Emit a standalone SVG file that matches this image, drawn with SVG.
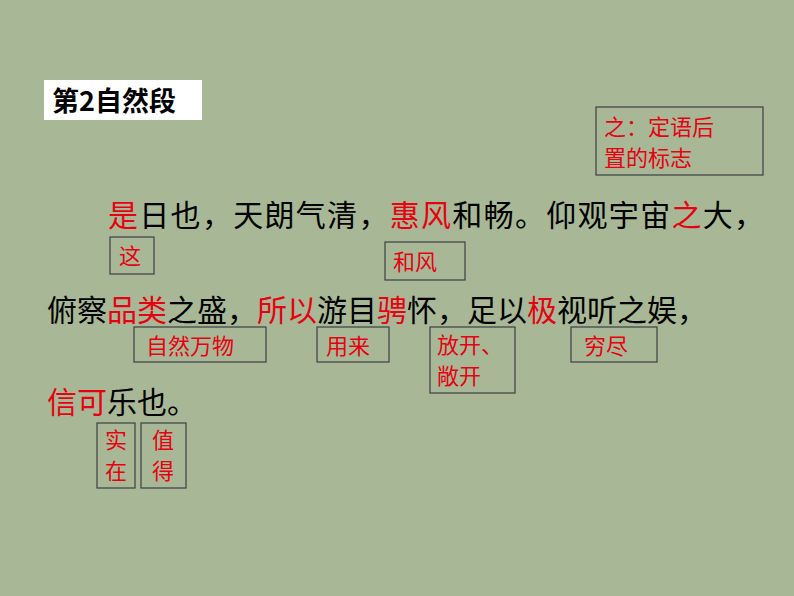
<svg xmlns="http://www.w3.org/2000/svg" width="794" height="596" viewBox="0 0 794 596">
<style>
.t{font-family:"Noto Sans CJK SC","Liberation Sans",sans-serif;font-size:30px;fill:#000}
.r{fill:#e60012}
.b{fill:none;stroke:#3a3f45;stroke-width:1.2}
.n{font-family:"Noto Sans CJK SC","Liberation Sans",sans-serif;font-size:22px;fill:#e60012}
</style>
<rect width="794" height="596" fill="#a8b896"/>
<g id="title"><rect x="44" y="80" width="158" height="40" fill="#fff"/>
<text x="52" y="111" font-family="Noto Sans CJK SC,Liberation Sans,sans-serif" font-size="27" font-weight="bold">第2自然段</text></g>
<text class="t" x="108" y="226" letter-spacing="1.3"><tspan class="r">是</tspan>日也，天朗气清，<tspan class="r">惠风</tspan>和畅。仰观宇宙<tspan class="r">之</tspan>大，</text>
<text class="t" x="47" y="321"><tspan>俯察</tspan><tspan class="r">品类</tspan>之盛，<tspan class="r">所以</tspan>游目<tspan class="r">骋</tspan>怀，足以<tspan class="r">极</tspan>视听之娱，</text>
<text class="t" x="47" y="413"><tspan class="r">信可</tspan>乐也。</text>
<g id="n1"><rect class="b" x="596" y="107" width="167" height="68"/><text class="n" x="604" y="135">之：定语后</text><text class="n" x="604" y="166">置的标志</text></g>
<g id="n2"><rect class="b" x="110" y="237" width="44" height="37"/><text class="n" x="119" y="264">这</text></g>
<g id="n3"><rect class="b" x="385" y="242" width="80" height="38"/><text class="n" x="393" y="270">和风</text></g>
<g id="n4"><rect class="b" x="134" y="327" width="132" height="35"/><text class="n" x="146" y="354">自然万物</text></g>
<g id="n5"><rect class="b" x="317" y="327" width="72" height="35"/><text class="n" x="326" y="354">用来</text></g>
<g id="n6"><rect class="b" x="430" y="327" width="85" height="66"/><text class="n" x="437" y="353">放开、</text><text class="n" x="437" y="384">敞开</text></g>
<g id="n7"><rect class="b" x="571" y="327" width="86" height="35"/><text class="n" x="584" y="354">穷尽</text></g>
<g id="n8"><rect class="b" x="97" y="423" width="38" height="65"/><text class="n" x="105" y="448">实</text><text class="n" x="105" y="479">在</text></g>
<g id="n9"><rect class="b" x="141" y="423" width="45" height="65"/><text class="n" x="152" y="448">值</text><text class="n" x="152" y="479">得</text></g>
</svg>
